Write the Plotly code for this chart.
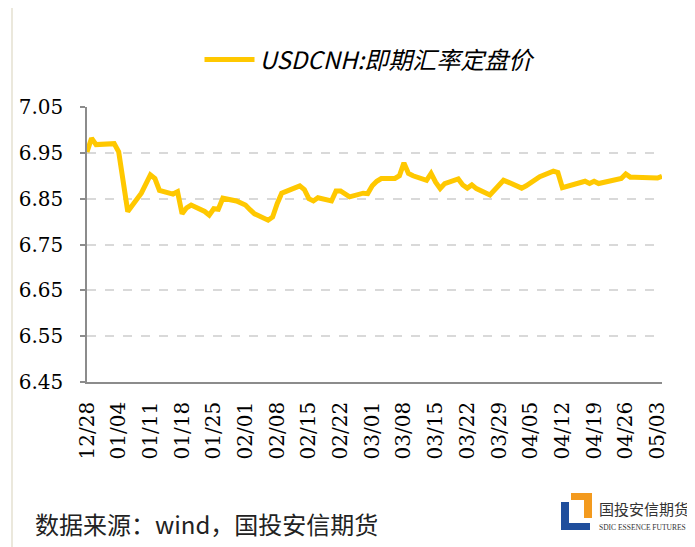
import plotly.graph_objects as go

dates = [
    "2016-12-28", "2016-12-29", "2016-12-30", "2017-01-02", "2017-01-03", "2017-01-04",
    "2017-01-05", "2017-01-06", "2017-01-09", "2017-01-10", "2017-01-11", "2017-01-12",
    "2017-01-13", "2017-01-16", "2017-01-17", "2017-01-18", "2017-01-19", "2017-01-20",
    "2017-01-23", "2017-01-24", "2017-01-25", "2017-01-26", "2017-01-27", "2017-01-30",
    "2017-01-31", "2017-02-01", "2017-02-02", "2017-02-03", "2017-02-06", "2017-02-07",
    "2017-02-08", "2017-02-09", "2017-02-10", "2017-02-13", "2017-02-14", "2017-02-15",
    "2017-02-16", "2017-02-17", "2017-02-20", "2017-02-21", "2017-02-22", "2017-02-23",
    "2017-02-24", "2017-02-27", "2017-02-28", "2017-03-01", "2017-03-02", "2017-03-03",
    "2017-03-06", "2017-03-07", "2017-03-08", "2017-03-09", "2017-03-10", "2017-03-13",
    "2017-03-14", "2017-03-15", "2017-03-16", "2017-03-17", "2017-03-20", "2017-03-21",
    "2017-03-22", "2017-03-23", "2017-03-24", "2017-03-27", "2017-03-28", "2017-03-29",
    "2017-03-30", "2017-03-31", "2017-04-03", "2017-04-04", "2017-04-05", "2017-04-06",
    "2017-04-07", "2017-04-10", "2017-04-11", "2017-04-12", "2017-04-13", "2017-04-14",
    "2017-04-17", "2017-04-18", "2017-04-19", "2017-04-20", "2017-04-21", "2017-04-24",
    "2017-04-25", "2017-04-26", "2017-04-27", "2017-04-28", "2017-05-01", "2017-05-02",
    "2017-05-03", "2017-05-04",
]

usdcnh = [
    6.952, 6.982, 6.968, 6.969, 6.970, 6.952,
    6.885, 6.822, 6.862, 6.881, 6.902, 6.894,
    6.868, 6.860, 6.865, 6.817, 6.830, 6.836,
    6.822, 6.814, 6.828, 6.827, 6.851, 6.845,
    6.841, 6.836, 6.826, 6.817, 6.803, 6.810,
    6.839, 6.862, 6.866, 6.878, 6.870, 6.850,
    6.845, 6.852, 6.845, 6.867, 6.867, 6.860,
    6.854, 6.862, 6.861, 6.878, 6.888, 6.894,
    6.894, 6.900, 6.928, 6.905, 6.900, 6.890,
    6.905, 6.886, 6.872, 6.883, 6.893, 6.880,
    6.873, 6.880, 6.872, 6.858, 6.868, 6.880,
    6.890, 6.886, 6.873, 6.878, 6.885, 6.893,
    6.898, 6.910, 6.907, 6.874, 6.877, 6.880,
    6.888, 6.883, 6.888, 6.883, 6.885, 6.890,
    6.894, 6.904, 6.897, 6.897, 6.897, 6.896,
    6.895, 6.899,
]

series_name = "USDCNH:即期汇率定盘价"
source_text = "数据来源：wind，国投安信期货"
y_ticks = [6.45, 6.55, 6.65, 6.75, 6.85, 6.95, 7.05]

# the page body has an 8px margin; work in screen pixels and shift
OFF = 8
W, H = 695 - OFF, 547 - OFF
L, T = 87 - OFF, 107 - OFF
R = W - (662 - OFF)
B = H - (382 - OFF)
PW, PH = W - L - R, H - T - B


def px(x):
    return (x - OFF - L) / PW


def py(y):
    return (H - B - (y - OFF)) / PH


fig = go.Figure()
fig.add_trace(go.Scatter(
    x=dates, y=usdcnh, mode="lines", name=series_name,
    line=dict(color="#FFC800", width=5),
))

serif = "DejaVu Serif"
fig.update_layout(
    width=W, height=H,
    margin=dict(l=L, r=R, t=T, b=B, autoexpand=False),
    paper_bgcolor="white", plot_bgcolor="white",
    showlegend=True,
    legend=dict(
        orientation="h", x=px(370), xanchor="center", y=py(60), yanchor="middle",
        font=dict(family="Noto Sans CJK SC", size=24, color="#000", style="italic"),
        itemwidth=50, bgcolor="rgba(0,0,0,0)",
    ),
    xaxis=dict(
        type="date", range=["2016-12-28", "2017-05-04"],
        tick0="2016-12-28", dtick=7 * 86400000, tickformat="%m/%d",
        tickangle=-90, showgrid=False, ticks="", ticklabelstandoff=10,
        showline=True, linecolor="#8c8c8c", linewidth=1.5,
        tickfont=dict(family=serif, size=20, color="#000"),
        zeroline=False, automargin=False,
    ),
    yaxis=dict(
        range=[6.45, 7.05], tickvals=y_ticks, ticktext=[f"{v:.2f}" for v in y_ticks],
        showgrid=True, gridcolor="#d9d9d9", griddash="dash", gridwidth=1.5,
        showline=True, linecolor="#8c8c8c", linewidth=1.5,
        ticks="outside", ticklen=5, tickcolor="#8c8c8c", tickwidth=1.5,
        ticklabelstandoff=13,
        tickfont=dict(family=serif, size=20, color="#000"),
        zeroline=False, automargin=False,
    ),
)

# left page border
fig.add_shape(type="line", xref="paper", yref="paper", x0=px(12), x1=px(12), y0=py(8), y1=py(547),
              line=dict(color="#ebe8dc", width=2), layer="below")

# source text
fig.add_annotation(text=source_text, xref="paper", yref="paper", x=px(33), y=py(523),
                   xanchor="left", yanchor="middle", showarrow=False,
                   font=dict(family="Noto Sans CJK SC", size=24, color="#222"))

# logo
blue = "#1f4e9c"
orange = "#f39a1e"
for (x0, y0, x1, y1, c) in [
    (561, 502, 569, 530, blue),
    (561, 523, 590, 530, blue),
    (571, 493, 592, 500, orange),
    (584, 493, 592, 518, orange),
]:
    fig.add_shape(type="rect", xref="paper", yref="paper", x0=px(x0), x1=px(x1), y0=py(y1), y1=py(y0),
                  fillcolor=c, line=dict(width=0))
fig.add_annotation(text="国投安信期货", xref="paper", yref="paper", x=px(597), y=py(508),
                   xanchor="left", yanchor="middle", showarrow=False,
                   font=dict(family="Noto Sans CJK SC", size=15, color="#333"))
fig.add_annotation(text="SDIC ESSENCE FUTURES", xref="paper", yref="paper", x=px(597), y=py(527),
                   xanchor="left", yanchor="middle", showarrow=False,
                   font=dict(family="Liberation Sans Narrow", size=7.5, color="#333"))

fig.write_html("out.html")
